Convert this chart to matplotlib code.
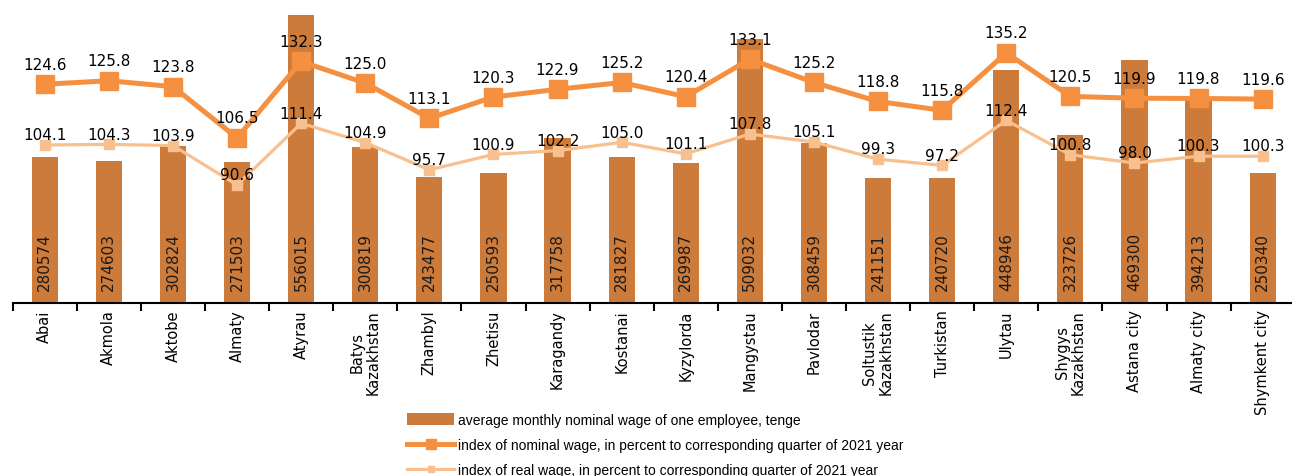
import matplotlib
matplotlib.use("Agg")
import matplotlib.pyplot as plt
import numpy as np

regions = ["Abai", "Akmola", "Aktobe", "Almaty", "Atyrau", "Batys\nKazakhstan",
           "Zhambyl", "Zhetisu", "Karagandy", "Kostanai", "Kyzylorda", "Mangystau",
           "Pavlodar", "Soltustik\nKazakhstan", "Turkistan", "Ulytau",
           "Shygys\nKazakhstan", "Astana city", "Almaty city", "Shymkent city"]
wage = [280574, 274603, 302824, 271503, 556015, 300819, 243477, 250593, 317758,
        281827, 269987, 509032, 308459, 241151, 240720, 448946, 323726, 469300,
        394213, 250340]
nominal_idx = [124.6, 125.8, 123.8, 106.5, 132.3, 125.0, 113.1, 120.3, 122.9, 125.2,
               120.4, 133.1, 125.2, 118.8, 115.8, 135.2, 120.5, 119.9, 119.8, 119.6]
real_idx = [104.1, 104.3, 103.9, 90.6, 111.4, 104.9, 95.7, 100.9, 102.2, 105.0,
            101.1, 107.8, 105.1, 99.3, 97.2, 112.4, 100.8, 98.0, 100.3, 100.3]

bar_c = "#CD7B3A"
nom_c = "#F4903F"
real_c = "#F9C08F"

W, H = 1292, 477
fig = plt.figure(figsize=(W / 100, H / 100), dpi=100)
left, right = 12.7 / W, 1294.7 / W
bottom = (H - 303.5) / H
ax = fig.add_axes([left, bottom, right - left, 1 - bottom])
ax2 = ax.twinx()

x = np.arange(len(regions))
ax.bar(x, wage, width=0.41, color=bar_c, zorder=1,
       label="average monthly nominal wage of one employee, tenge")
for xi, v in zip(x, wage):
    ax.text(xi, 24000, str(v), rotation=90, ha="center", va="bottom",
            fontsize=11, color="#1a1a1a", zorder=3)

ax2.plot(x, nominal_idx, color=nom_c, lw=3.6, marker="s", ms=13,
         label="index of nominal wage, in percent to corresponding quarter of 2021 year")
ax2.plot(x, real_idx, color=real_c, lw=2.3, marker="s", ms=7.5,
         label="index of real wage, in percent to corresponding quarter of 2021 year")
for xi, v in zip(x, nominal_idx):
    ax2.annotate(f"{v:.1f}", (xi, v), xytext=(0, 9), textcoords="offset points",
                 ha="center", va="bottom", fontsize=11)
for xi, v in zip(x, real_idx):
    ax2.annotate(f"{v:.1f}", (xi, v), xytext=(0, 2), textcoords="offset points",
                 ha="center", va="bottom", fontsize=11)

ax.set_xlim(-0.5, len(regions) - 0.5)
ax.set_ylim(0, 587000)
ax2.set_ylim(50.9, 153.4)

for a in (ax, ax2):
    for s in ("top", "left", "right"):
        a.spines[s].set_visible(False)
    a.set_yticks([])
ax2.spines["bottom"].set_visible(False)
ax.spines["bottom"].set_linewidth(1.5)

ax.set_xticks(x)
ax.set_xticklabels(regions, rotation=90, fontsize=10.5, linespacing=1.1)
ax.tick_params(axis="x", which="major", length=0, pad=5)
ax.set_xticks(np.arange(-0.5, len(regions)), minor=True)
ax.tick_params(axis="x", which="minor", length=6, width=1.5, color="black")

h1, l1 = ax.get_legend_handles_labels()
h2, l2 = ax2.get_legend_handles_labels()
fig.legend(h1 + h2, l1 + l2, loc="upper left", bbox_to_anchor=(400 / W, 1 - 407 / H),
           frameon=False, prop={"family": "Liberation Sans", "size": 10},
           handlelength=3.4, handleheight=1.0, handletextpad=0.3, labelspacing=0.8,
           borderpad=0, markerscale=0.55)

fig.savefig("out.png", dpi=100)
